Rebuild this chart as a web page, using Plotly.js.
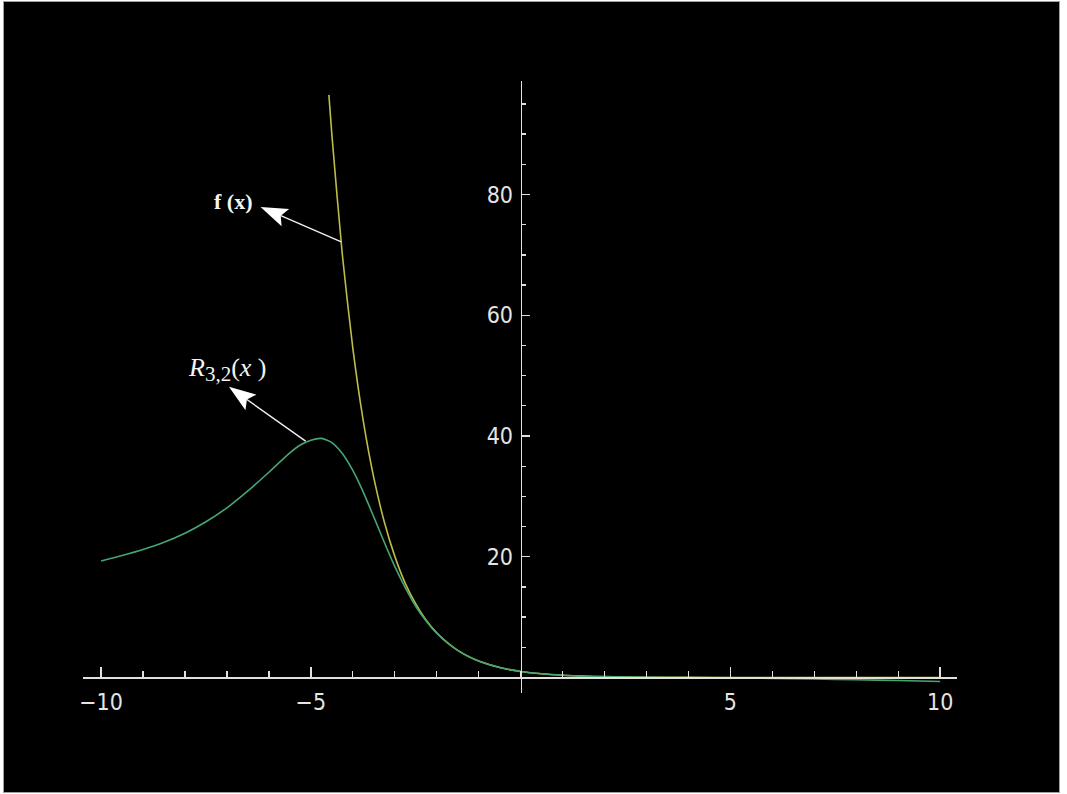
<!DOCTYPE html>
<html><head><meta charset="utf-8">
<script src="https://cdn.plot.ly/plotly-3.0.1.min.js"></script>
<style>
html,body{margin:0;padding:0;background:#fff;width:1067px;height:794px;overflow:hidden;}
#frame{position:absolute;left:3px;top:1px;width:1055px;height:790px;border:1px solid #a0a0a0;background:#000;overflow:hidden;}
#chart{position:absolute;left:-4px;top:-2px;width:1067px;height:794px;}
</style></head><body>
<div id="frame"><div id="chart"></div></div>
<script>
// f(x)
const fX = [-4.57, -4.5, -4.25, -4.0, -3.75, -3.5, -3.25, -3.0, -2.75, -2.5, -2.25, -2.0, -1.75, -1.5, -1.25, -1.0, -0.5, 0, 0.5, 1, 1.5, 2, 3, 4, 6, 8, 10];
const fY = [96.5, 90.0, 70.1, 54.6, 42.5, 33.1, 25.8, 20.1, 15.6, 12.2, 9.49, 7.39, 5.76, 4.48, 3.49, 2.72, 1.65, 1.0, 0.61, 0.37, 0.22, 0.14, 0.05, 0.02, 0.0, 0.0, 0.0];
// R_{3,2}(x)
const rX = [-10, -9.5, -9, -8.5, -8, -7.5, -7, -6.5, -6, -5.5, -5.25, -5, -4.75, -4.5, -4.25, -4, -3.75, -3.5, -3.25, -3, -2.75, -2.5, -2.25, -2, -1.5, -1, -0.5, 0, 1, 2, 3, 4, 5, 6, 7, 8, 9, 10];
const rY = [19.3, 20.2, 21.2, 22.4, 23.9, 25.8, 28.1, 30.9, 34.0, 37.2, 38.5, 39.3, 39.6, 38.9, 37.1, 34.3, 30.7, 26.6, 22.4, 18.4, 14.9, 11.8, 9.35, 7.33, 4.48, 2.72, 1.65, 1.0, 0.37, 0.13, 0.04, -0.02, -0.08, -0.15, -0.25, -0.37, -0.51, -0.67];

const xTickVals = [-10, -5, 5, 10];
const xTickText = ['\u221210', '\u22125', '5', '10'];
const yTickVals = [20, 40, 60, 80];
const yTickText = ['20', '40', '60', '80'];

const fLabel = {text: '<b>f (x)</b>', x: -6.85, y: 78.9};
const rLabel = {text: '<i>R</i><sub><span style="font-size:21px">3,2</span></sub>(<i>x</i> )', x: -6.98, y: 51.0};
const arrows = [
  {tail: [-4.274, 72.15], head: [-6.198, 77.95]},
  {tail: [-5.125, 39.16], head: [-6.952, 48.15]}
];

const xRange = [-10.43, 10.40];
const yRange = [-2.57, 98.8];
const W = 1067, H = 794;
const M = {l: 83, r: 110, t: 81, b: 101};
const pw = W - M.l - M.r, ph = H - M.t - M.b;
const sx = pw / (xRange[1] - xRange[0]);
const sy = ph / (yRange[1] - yRange[0]);

const shapes = [];
arrows.forEach(a => {
  const dxp = (a.head[0] - a.tail[0]) * sx;
  const dyp = -(a.head[1] - a.tail[1]) * sy;
  const len = Math.hypot(dxp, dyp);
  const ux = dxp / len, uy = dyp / len;
  const nx = -uy, ny = ux;
  const L = 27, HW = 9.5, notch = 5;
  const toData = (px, py) => [a.head[0] + px / sx, a.head[1] - py / sy];
  const tip = toData(0, 0);
  const c1 = toData(-ux * L + nx * HW, -uy * L + ny * HW);
  const c2 = toData(-ux * L - nx * HW, -uy * L - ny * HW);
  const nt = toData(-ux * (L - notch), -uy * (L - notch));
  shapes.push({type: 'line', xref: 'x', yref: 'y', x0: a.tail[0], y0: a.tail[1], x1: nt[0], y1: nt[1],
    line: {color: '#f0f0f0', width: 1.4}});
  shapes.push({type: 'path', xref: 'x', yref: 'y',
    path: `M${tip[0]},${tip[1]} L${c1[0]},${c1[1]} L${nt[0]},${nt[1]} L${c2[0]},${c2[1]} Z`,
    fillcolor: '#ffffff', line: {width: 0}});
});

const tickFont = {family: '"Liberation Sans Narrow", "Arial Narrow", "DejaVu Sans Condensed", sans-serif', size: 23, color: '#e4e4e4'};

const traces = [
  {x: fX, y: fY, type: 'scatter', mode: 'lines', line: {color: '#bcbc4a', width: 1.6, shape: 'spline', smoothing: 0.6}, hoverinfo: 'skip'},
  {x: rX, y: rY, type: 'scatter', mode: 'lines', line: {color: '#46a672', width: 1.6, shape: 'spline', smoothing: 0.6}, hoverinfo: 'skip'}
];

const layout = {
  width: W, height: H,
  margin: M,
  paper_bgcolor: '#000', plot_bgcolor: '#000',
  showlegend: false,
  xaxis: {
    range: xRange, domain: [0, 1], anchor: 'free',
    position: (0 - yRange[0]) / (yRange[1] - yRange[0]),
    showgrid: false, zeroline: false, showline: true, linecolor: '#e0e0e0', linewidth: 1.5,
    tickmode: 'array', tickvals: xTickVals, ticktext: xTickText,
    ticks: 'inside', ticklen: 10, tickwidth: 1.5, tickcolor: '#e0e0e0',
    minor: {ticks: 'inside', ticklen: 6, tickwidth: 1.3, tickcolor: '#e0e0e0', dtick: 1, tick0: 0, showgrid: false},
    tickfont: tickFont, ticklabelstandoff: 3, fixedrange: true
  },
  yaxis: {
    range: yRange, domain: [0, 1], anchor: 'free',
    position: (0 - xRange[0]) / (xRange[1] - xRange[0]),
    showgrid: false, zeroline: false, showline: true, linecolor: '#e0e0e0', linewidth: 1.5,
    tickmode: 'array', tickvals: yTickVals, ticktext: yTickText,
    ticks: 'inside', ticklen: 8, tickwidth: 1.5, tickcolor: '#e0e0e0',
    minor: {ticks: 'inside', ticklen: 4, tickwidth: 1.3, tickcolor: '#e0e0e0', dtick: 5, tick0: 0, showgrid: false},
    tickfont: tickFont, ticklabelstandoff: 3, fixedrange: true
  },
  shapes: shapes,
  annotations: [
    {x: fLabel.x, y: fLabel.y, xref: 'x', yref: 'y', text: fLabel.text, showarrow: false,
     xanchor: 'center', yanchor: 'middle', font: {family: '"Liberation Serif", serif', size: 22, color: '#f4f4f4'}},
    {x: rLabel.x, y: rLabel.y, xref: 'x', yref: 'y', text: rLabel.text, showarrow: false,
     xanchor: 'center', yanchor: 'middle', font: {family: '"Liberation Serif", serif', size: 26, color: '#f4f4f4'}}
  ]
};

Plotly.newPlot('chart', traces, layout, {displayModeBar: false, staticPlot: true});
</script>
</body></html>
